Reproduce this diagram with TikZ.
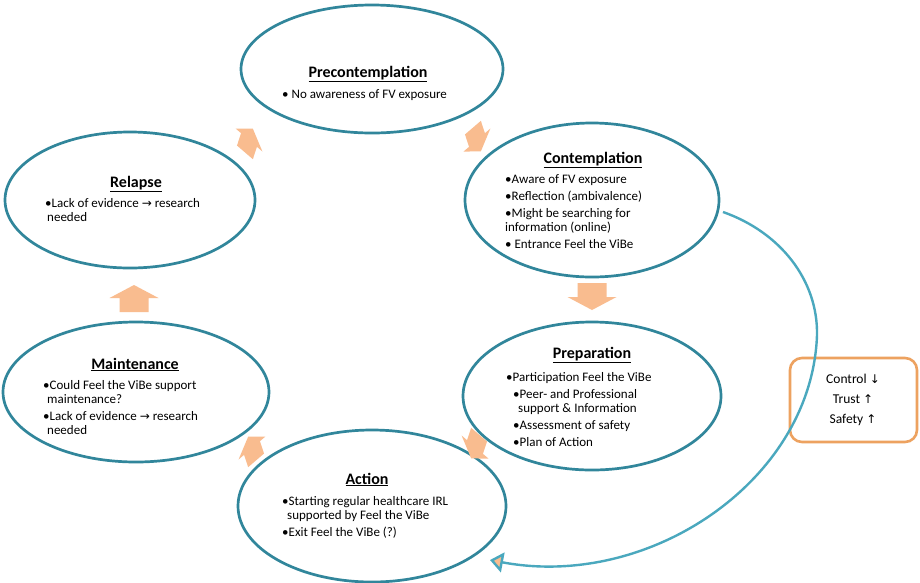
\documentclass[tikz,border=0pt]{standalone}
\usepackage{fontspec}
\setmainfont{Carlito}
\newfontfamily\symfont{DejaVu Sans}
\usetikzlibrary{shapes.geometric,arrows.meta}

\definecolor{stageline}{HTML}{31869B}
\definecolor{loopline}{HTML}{4AA8BE}
\definecolor{peach}{HTML}{F9BC8F}
\definecolor{boxline}{HTML}{EDA260}

\newcommand\arr{{\symfont\fontsize{12}{12}\selectfont →}}
\newcommand\uparr{{\symfont\fontsize{12}{12}\selectfont ↑}}
\newcommand\downarr{{\symfont\fontsize{12}{12}\selectfont ↓}}
% block arrow between two stages: centre x, centre y, horizontal squash, direction
\newcommand\stagearrow[4]{%
  \fill[peach, shift={(#1,#2)}, xscale=#3, rotate=#4]
    (-14,-14.5) -- (0,-14.5) -- (0,-24.5) -- (13,0) -- (0,24.5) -- (0,14.5) -- (-14,14.5) -- cycle;}

\tikzset{
  stage/.style={ellipse, draw=stageline, line width=2.7pt, inner sep=0pt},
  stagetitle/.style={font=\fontsize{16}{18}\selectfont\bfseries, anchor=base, inner sep=0pt},
  stagebody/.style={font=\fontsize{13}{14}\selectfont, align=left, anchor=north west, inner sep=0pt},
  looppath/.style={draw=loopline, line width=2.4pt},
  factorbox/.style={draw=boxline, line width=2.6pt, rounded corners=12pt, minimum width=127pt, minimum height=84pt, inner sep=0pt},
  factortext/.style={font=\fontsize{13.5}{20}\selectfont, align=center, inner sep=0pt}
}

\begin{document}
\begin{tikzpicture}[x=1pt, y=-1pt]
\fill[white] (0,0) rectangle (920,582);
\useasboundingbox (0,0) rectangle (920,582);

% the six stages
\node[stage, minimum width=262pt, minimum height=128pt] (pre) at (372,69) {};
\node[stage, minimum width=254pt, minimum height=154pt] (cont) at (592,200) {};
\node[stage, minimum width=250pt, minimum height=136pt] (rel) at (130,200) {};
\node[stage, minimum width=266pt, minimum height=140pt] (main) at (136,392) {};
\node[stage, minimum width=258pt, minimum height=148pt] (prep) at (592,396) {};
\node[stage, minimum width=268pt, minimum height=152pt] (act) at (372,506) {};

% stage texts
\node[stagetitle] (pretitle) at (368,77) {\underline{Precontemplation}};
\node[stagebody] (prebody) at (282,89.5) {• No awareness of FV exposure};

\node[stagetitle] (conttitle) at (593,163) {\underline{Contemplation}};
\node[stagebody] (contbody) at (505,174.5) {•Aware of FV exposure\\[3pt]
•Reflection (ambivalence)\\[3pt]
•Might be searching for\\
information (online)\\[3pt]
• Entrance Feel the ViBe};

\node[stagetitle] (reltitle) at (136,187) {\underline{Relapse}};
\node[stagebody] (relbody) at (45,198.5) {•Lack of evidence \arr{} research\\
\hspace*{2pt}needed};

\node[stagetitle] (maintitle) at (135,369) {\underline{Maintenance}};
\node[stagebody] (mainbody) at (43,380.5) {•Could Feel the ViBe support\\
\hspace*{4pt}maintenance?\\[3pt]
•Lack of evidence \arr{} research\\
\hspace*{4pt}needed};

\node[stagetitle] (preptitle) at (592,358) {\underline{Preparation}};
\node[stagebody] (prepbody) at (506,372) {•Participation Feel the ViBe\\[3pt]
\hspace*{7pt}•Peer- and Professional\\
\hspace*{12pt}support \& Information\\[3pt]
\hspace*{7pt}•Assessment of safety\\[3pt]
\hspace*{7pt}•Plan of Action};

\node[stagetitle] (acttitle) at (367,484) {\underline{Action}};
\node[stagebody] (actbody) at (282,496.5) {•Starting regular healthcare IRL\\
\hspace*{5pt}supported by Feel the ViBe\\[3pt]
•Exit Feel the ViBe (?)};

% block arrows of the cycle
\stagearrow{249}{140}{0.62}{62}
\stagearrow{477}{140}{0.62}{-62}
\stagearrow{592}{297}{1}{-90}
\stagearrow{475}{447}{0.62}{-118}
\stagearrow{252}{448}{0.62}{118}
\stagearrow{134}{298}{1}{90}

% factors box
\node[factorbox] (factors) at (853.5,400) {};
\node[factortext] (factorlist) at (853,400) {Control \downarr\\
Trust \uparr\\
Safety \uparr};

% return path from contemplation back to action
\coordinate (loopstart) at (723,212);
\coordinate (loopend) at (490,560);
\draw[looppath, -{Triangle[length=13pt, width=20pt, fill=peach]}]
  (loopstart) .. controls (780,232) and (818,280) .. (817,335)
  .. controls (812,480) and (650,590) .. (loopend);
\end{tikzpicture}
\end{document}
